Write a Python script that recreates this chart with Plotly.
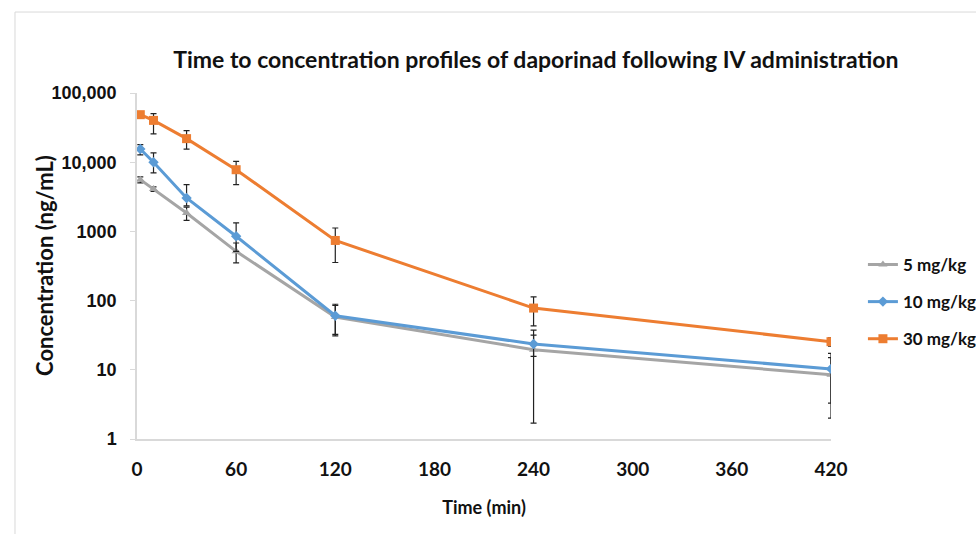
import plotly.graph_objects as go

time_min = [2, 10, 30, 60, 120, 240, 420]

series_names = ["5 mg/kg", "10 mg/kg", "30 mg/kg"]

conc_5 = [5600, 4100, 1840, 515, 58, 19.5, 8.5]
err5_plus = [520, 300, 400, 165, 27, 18, 6.5]
err5_minus = [590, 300, 400, 165, 27, 17.8, 6.5]

conc_10 = [15500, 10000, 3040, 850, 60.5, 23.6, 10.3]
err10_plus = [2400, 3600, 1700, 475, 28, 8, 7]
err10_minus = [2700, 3000, 700, 335, 28, 8, 7]

conc_30 = [48600, 40200, 21900, 7790, 740, 78, 25.5]
err30_plus = [2500, 10000, 6600, 2500, 380, 35, 3.5]
err30_minus = [2500, 14600, 6400, 3060, 385, 35, 3.5]

y_tickvals = [1, 10, 100, 1000, 10000, 100000]
y_ticktext = ["1", "10", "100", "1000", "10,000", "100,000"]
x_tickvals = [0, 60, 120, 180, 240, 300, 360, 420]

colors = ["#A5A5A5", "#5B9BD5", "#ED7D31"]
symbols = ["triangle-up", "diamond", "square"]
marker_sizes = [8, 8, 9]

fig = go.Figure()
for i, (name, y, ep, em) in enumerate([
    (series_names[0], conc_5, err5_plus, err5_minus),
    (series_names[1], conc_10, err10_plus, err10_minus),
    (series_names[2], conc_30, err30_plus, err30_minus),
]):
    fig.add_trace(go.Scatter(
        x=time_min, y=y, name=name, mode="lines+markers",
        line=dict(color=colors[i], width=3),
        marker=dict(color=colors[i], symbol=symbols[i], size=marker_sizes[i]),
        error_y=dict(type="data", symmetric=False, array=ep, arrayminus=em,
                     color="#222222", thickness=1.2, width=3),
        legendgroup=name,
    ))

lato_bold = dict(family="Lato, Open Sans, sans-serif", weight="bold", color="#111111")

fig.update_layout(
    width=976, height=534,
    margin=dict(l=137, r=145, t=93, b=95, autoexpand=False),
    paper_bgcolor="white", plot_bgcolor="white",
    title=dict(text="Time to concentration profiles of daporinad following IV administration",
               x=0.549, xanchor="center", y=0.888, yanchor="middle",
               font=dict(size=23, **lato_bold)),
    xaxis=dict(range=[0, 420], tickvals=x_tickvals, showgrid=False, zeroline=False,
               showline=True, linecolor="#D9D9D9", linewidth=1.5, ticks="",
               ticklabelstandoff=12,
               tickfont=dict(size=19, **lato_bold),
               title=dict(text="Time (min)", font=dict(size=18, **lato_bold), standoff=23)),
    yaxis=dict(type="log", range=[0, 5], tickvals=y_tickvals, ticktext=y_ticktext,
               showgrid=False, zeroline=False, showline=True, linecolor="#D9D9D9",
               linewidth=1.5, ticks="outside", ticklen=5, tickcolor="#D9D9D9",
               ticklabelstandoff=10,
               tickfont=dict(size=18, family="Liberation Sans, Arial, sans-serif",
                             weight="bold", color="#111111")),
    annotations=[dict(text="Concentration (ng/mL)", textangle=-90,
                      xref="paper", yref="paper", x=-0.1326, y=0.503,
                      xanchor="center", yanchor="middle", showarrow=False,
                      font=dict(size=22, **lato_bold))],
    legend=dict(x=1.046, y=0.555, xanchor="left", yanchor="top",
                font=dict(size=17, **lato_bold), tracegroupgap=12,
                bgcolor="rgba(0,0,0,0)"),
    showlegend=True,
    shapes=[dict(type="rect", xref="paper", yref="paper",
                 x0=-0.1758, x1=1.3, y0=-0.35, y1=1.234,
                 line=dict(color="#D9D9D9", width=1), fillcolor="rgba(0,0,0,0)",
                 layer="below")],
)

fig.write_html("out.html")
